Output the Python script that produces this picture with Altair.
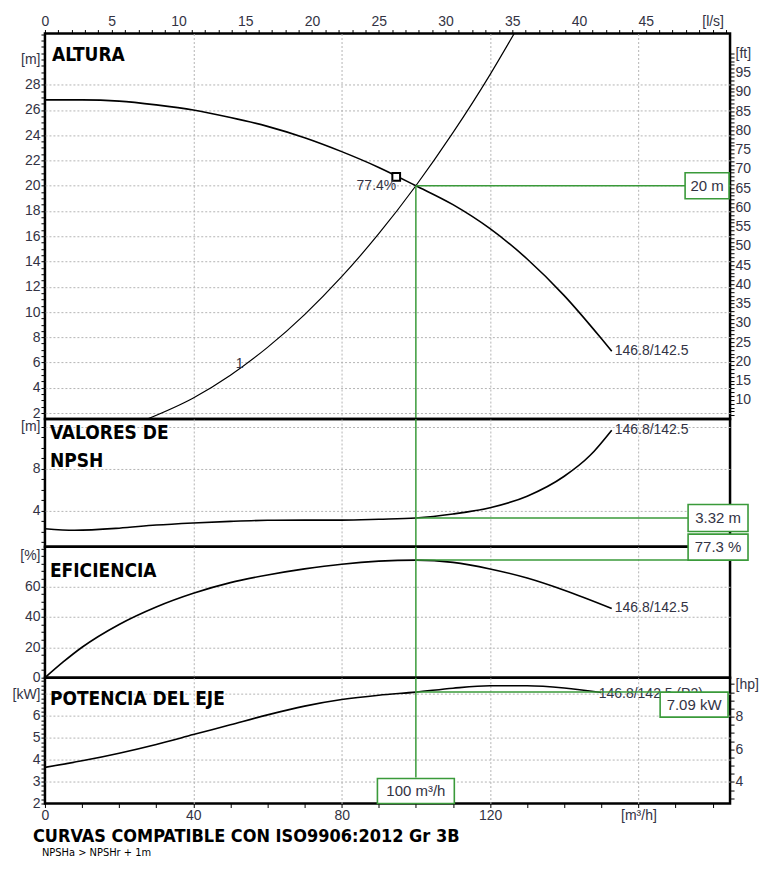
import altair as alt
import pandas as pd

FONT = "Liberation Sans, Arial, sans-serif"
TFONT = "Liberation Sans, Arial, sans-serif"
BFONT = "DejaVu Sans Condensed, Liberation Sans Narrow, sans-serif"
LBL = "#333344"
GREEN = "#3a9a3a"
GRID = "#b4b4b4"

W = 686
H1, H2, H3, H4 = 386, 128, 131, 126
Q_DOMAIN = [0, 184.7]
H_DOMAIN = [1.53, 32.05]
N_DOMAIN = [0.57, 12.76]
E_DOMAIN = [0, 86]
P_DOMAIN = [2, 7.75]

# ---- data ----
head_q = [0, 10, 20, 30, 40, 50, 60, 70, 80, 90, 100, 110, 120, 130, 140, 150, 152.8]
head_h = [26.8, 26.8, 26.7, 26.4, 26.0, 25.4, 24.7, 23.8, 22.7, 21.45, 20.0, 18.5, 16.6, 14.2, 11.3, 7.9, 6.9]
sys_q = [27, 40, 50, 60, 70, 80, 90, 100, 110, 120, 127]
sys_h = [1.46, 3.2, 5.0, 7.2, 9.8, 12.8, 16.2, 20.0, 24.2, 28.8, 32.3]
npsh_q = [0, 8, 20, 30, 40, 50, 60, 70, 80, 90, 100, 110, 120, 130, 140, 147, 152.8]
npsh_v = [2.3, 2.15, 2.35, 2.65, 2.85, 3.0, 3.1, 3.12, 3.12, 3.2, 3.32, 3.7, 4.3, 5.4, 7.3, 9.3, 11.7]
eff_q = [0, 5, 10, 20, 30, 40, 50, 60, 70, 80, 90, 100, 110, 120, 130, 140, 152.8]
eff_v = [0, 10.5, 20, 35, 46.5, 55.5, 62.5, 67.5, 71.5, 74.6, 76.6, 77.3, 75.8, 71.5, 65.5, 57.5, 45.5]
pow_q = [0, 10, 20, 30, 40, 50, 60, 70, 80, 90, 100, 110, 120, 130, 140, 150]
pow_v = [3.65, 3.95, 4.3, 4.7, 5.15, 5.6, 6.05, 6.45, 6.75, 6.95, 7.09, 7.27, 7.38, 7.38, 7.28, 7.07]

curve_label = "146.8/142.5"
power_label = "146.8/142.5  (P2)"
sys_label_q, sys_label_h = [50.6], [5.85]
bep_q, bep_h, bep_text = [94.7], [20.7], ["77.4%"]
op_q = 100
op_h, op_npsh, op_eff, op_pow = 20, 3.32, 77.3, 7.09
op_texts = {"h": "20 m", "n": "3.32 m", "e": "77.3 %", "p": "7.09 kW", "q": "100 m³/h"}

# axis tick value lists
ls_ticks = [k * 3.6 for k in range(0, 52)]
m3h_ticks = list(range(0, 181, 10))
m_ticks = [v / 2 for v in range(4, 65)]
ft_ticks = [ft / 3.28084 for ft in range(6, 101)]
n_ticks = list(range(1, 13))
e_ticks = list(range(0, 86, 5))
kw_ticks = [round(2 + 0.2 * k, 1) for k in range(0, 29)]
hp_ticks = [hp / 2 * 0.7457 for hp in range(6, 21)]

xscale = alt.Scale(domain=Q_DOMAIN, nice=False, zero=False)

AX = dict(labelFont=FONT, labelFontSize=14, labelColor=LBL, tickColor="black", tickSize=4,
          labelPadding=1, domain=False, grid=False, labelOverlap=False, labelFlush=False,
          labelBound=False, title=None, minExtent=0)


def grid_axis(orient, values):
    return alt.Axis(orient=orient, values=values, grid=True, gridDash=[2, 2], gridColor=GRID,
                    gridWidth=1, labels=False, ticks=False, domain=False, title=None,
                    minExtent=0, maxExtent=0)


def line(df, yfield, ydom, xaxis=None, yaxis=None, clip=False, width=1.6, color="black"):
    return alt.Chart(df).mark_line(color=color, strokeWidth=width, interpolate="monotone", clip=clip).encode(
        x=alt.X("q:Q", scale=xscale, axis=xaxis),
        y=alt.Y(f"{yfield}:Q", scale=alt.Scale(domain=ydom, nice=False, zero=False), axis=yaxis),
    )


def end_label(q, v, text, ydom, yaxis=None, size=14):
    df = pd.DataFrame({"q": [q], "v": [v], "t": [text]})
    return alt.Chart(df).mark_text(align="left", baseline="middle", dx=3, fontSize=size, font=TFONT,
                                   color=LBL).encode(
        x=alt.X("q:Q", scale=xscale, axis=None),
        y=alt.Y("v:Q", scale=alt.Scale(domain=ydom, nice=False, zero=False), axis=yaxis),
        text="t:N")


def title_text(text, x, y, size=19, bold=True, font=BFONT):
    return alt.Chart(pd.DataFrame({"t": [text]})).mark_text(
        align="left", baseline="middle", fontSize=size, font=font,
        fontWeight="bold" if bold else "normal", color="black").encode(
        x=alt.value(x), y=alt.value(y), text="t:N")


def box(yval, ydom, text, xpix, w, h, shift=0.0, xdata=None, ypix=None):
    r = w / 2
    hh = h / 2 / r
    off = shift / r
    path = f"M-1,{-hh + off:.3f}L1,{-hh + off:.3f}L1,{hh + off:.3f}L-1,{hh + off:.3f}Z"
    df = pd.DataFrame({"q": [xdata if xdata is not None else 0], "v": [yval], "t": [text]})
    xenc = alt.X("q:Q", scale=xscale, axis=None) if xdata is not None else alt.value(xpix)
    yenc = alt.value(ypix) if ypix is not None else alt.Y(
        "v:Q", scale=alt.Scale(domain=ydom, nice=False, zero=False), axis=None)
    b = alt.Chart(df).mark_point(shape=path, size=w * w, filled=True, fill="white", stroke=GREEN,
                                 strokeWidth=1.6, opacity=1).encode(x=xenc, y=yenc)
    t = alt.Chart(df).mark_text(fontSize=15, font=TFONT, color=LBL, baseline="middle", align="center",
                                dy=shift).encode(x=xenc, y=yenc, text="t:N")
    return b + t


def hrule(yval, ydom, x2pix):
    df = pd.DataFrame({"q": [op_q], "v": [yval]})
    return alt.Chart(df).mark_rule(color=GREEN, strokeWidth=1.5).encode(
        x=alt.X("q:Q", scale=xscale, axis=None), x2=alt.value(x2pix),
        y=alt.Y("v:Q", scale=alt.Scale(domain=ydom, nice=False, zero=False), axis=None))


def vrule(y_top=None, ydom=None, ytop_pix=0, ybot_pix=0):
    df = pd.DataFrame({"q": [op_q], "v": [y_top if y_top is not None else 0]})
    yenc = alt.Y("v:Q", scale=alt.Scale(domain=ydom, nice=False, zero=False), axis=None) if y_top is not None else alt.value(ytop_pix)
    return alt.Chart(df).mark_rule(color=GREEN, strokeWidth=1.5).encode(
        x=alt.X("q:Q", scale=xscale, axis=None), y=yenc, y2=alt.value(ybot_pix))


# ---------------- panel 1: ALTURA ----------------
head_df = pd.DataFrame({"q": head_q, "v": head_h})
sys_df = pd.DataFrame({"q": sys_q, "v": sys_h})

top_axis = alt.Axis(orient="top", values=ls_ticks,
                    labelExpr="round(datum.value/3.6) % 5 == 0 ? (round(datum.value/3.6) == 50 ? '[l/s]' : '' + round(datum.value/3.6)) : ''",
                    **AX)
m_axis = alt.Axis(orient="left", values=m_ticks,
                  labelExpr="datum.value % 2 == 0 ? (datum.value == 30 ? '[m]' : (datum.value <= 28 ? '' + datum.value : '')) : ''",
                  **AX)
ft_axis = alt.Axis(orient="right", values=ft_ticks,
                   labelExpr="round(datum.value*3.28084) % 5 == 0 && round(datum.value*3.28084) >= 10 ? (round(datum.value*3.28084) == 100 ? '[ft]' : '' + round(datum.value*3.28084)) : ''",
                   **AX)

p1 = alt.layer(
    line(head_df, "v", H_DOMAIN, xaxis=top_axis, yaxis=m_axis),
    line(sys_df, "v", H_DOMAIN, xaxis=grid_axis("bottom", [40, 80, 120, 160]), yaxis=ft_axis, clip=True, width=1.2),
    end_label(sys_label_q[0], sys_label_h[0], "1", H_DOMAIN, yaxis=grid_axis("left", list(range(2, 29, 2)))),
    end_label(head_q[-1], head_h[-1], curve_label, H_DOMAIN),
    vrule(op_h, H_DOMAIN, ybot_pix=H1),
    hrule(op_h, H_DOMAIN, W - 45),
    alt.Chart(pd.DataFrame({"q": bep_q, "v": bep_h})).mark_point(shape="square", size=60, filled=True, fill="white",
                                                                  stroke="black", strokeWidth=2, opacity=1).encode(
        x=alt.X("q:Q", scale=xscale, axis=None),
        y=alt.Y("v:Q", scale=alt.Scale(domain=H_DOMAIN, nice=False, zero=False), axis=None)),
    alt.Chart(pd.DataFrame({"q": bep_q, "v": [op_h], "t": bep_text})).mark_text(
        align="right", baseline="middle", fontSize=14, font=TFONT, color=LBL, dx=0).encode(
        x=alt.X("q:Q", scale=xscale, axis=None),
        y=alt.Y("v:Q", scale=alt.Scale(domain=H_DOMAIN, nice=False, zero=False), axis=None), text="t:N"),
    box(op_h, H_DOMAIN, op_texts["h"], W - 23, 44, 26),
    title_text("ALTURA", 7, 22),
).properties(width=W, height=H1).resolve_axis(x="independent", y="independent")

# ---------------- panel 2: NPSH ----------------
npsh_df = pd.DataFrame({"q": npsh_q, "v": npsh_v})
n_axis = alt.Axis(orient="left", values=n_ticks,
                  labelExpr="datum.value == 12 ? '[m]' : (datum.value % 4 == 0 ? '' + datum.value : '')", **AX)
p2 = alt.layer(
    line(npsh_df, "v", N_DOMAIN, xaxis=grid_axis("bottom", [40, 80, 120, 160]), yaxis=n_axis),
    end_label(npsh_q[-1], npsh_v[-1], curve_label, N_DOMAIN, yaxis=grid_axis("left", [4, 8, 12])),
    vrule(ytop_pix=0, ybot_pix=H2),
    hrule(op_npsh, N_DOMAIN, W - 42),
    box(op_npsh, N_DOMAIN, op_texts["n"], W - 12, 60, 27),
    title_text("VALORES DE", 5, 14),
    title_text("NPSH", 5, 42),
).properties(width=W, height=H2).resolve_axis(x="independent", y="independent")

# ---------------- panel 3: EFICIENCIA ----------------
eff_df = pd.DataFrame({"q": eff_q, "v": eff_v})
e_axis = alt.Axis(orient="left", values=e_ticks,
                  labelExpr="datum.value == 80 ? '[%]' : (datum.value % 20 == 0 ? '' + datum.value : '')", **AX)
p3 = alt.layer(
    line(eff_df, "v", E_DOMAIN, xaxis=grid_axis("bottom", [40, 80, 120, 160]), yaxis=e_axis),
    end_label(eff_q[-1], eff_v[-1], curve_label, E_DOMAIN, yaxis=grid_axis("left", [20, 40, 60])),
    vrule(ytop_pix=0, ybot_pix=H3),
    hrule(op_eff, E_DOMAIN, W - 42),
    box(op_eff, E_DOMAIN, op_texts["e"], W - 12, 60, 26, shift=-13),
    title_text("EFICIENCIA", 5, 24),
).properties(width=W, height=H3).resolve_axis(x="independent", y="independent")

# ---------------- panel 4: POTENCIA ----------------
pow_df = pd.DataFrame({"q": pow_q, "v": pow_v})
bottom_axis = alt.Axis(orient="bottom", values=m3h_ticks,
                       labelExpr="datum.value == 160 ? '[m³/h]' : (datum.value % 40 == 0 && datum.value < 160 ? '' + datum.value : '')",
                       **AX)
kw_axis = alt.Axis(orient="left", values=kw_ticks,
                   labelExpr="abs(datum.value - round(datum.value)) < 0.01 ? (round(datum.value) == 7 ? '[kW]' : '' + round(datum.value)) : ''",
                   **AX)
hp_axis = alt.Axis(orient="right", values=hp_ticks,
                   labelExpr="abs(datum.value/0.7457 - round(datum.value/0.7457)) < 0.01 && round(datum.value/0.7457) % 2 == 0 ? (round(datum.value/0.7457) == 10 ? '[hp]' : '' + round(datum.value/0.7457)) : ''",
                   **AX)
p4 = alt.layer(
    line(pow_df, "v", P_DOMAIN, xaxis=bottom_axis, yaxis=kw_axis),
    end_label(pow_q[-1] - 1.5, pow_v[-1] - 0.05, power_label, P_DOMAIN, yaxis=hp_axis),
    line(pow_df, "v", P_DOMAIN, xaxis=grid_axis("top", [40, 80, 120, 160]),
         yaxis=grid_axis("left", [3, 4, 5, 6, 7]), width=0),
    vrule(ytop_pix=0, ybot_pix=100),
    hrule(op_pow, P_DOMAIN, W - 70),
    box(op_pow, P_DOMAIN, op_texts["p"], W - 36, 68, 25, shift=12.5),
    box(0, P_DOMAIN, op_texts["q"], 0, 77, 25, xdata=op_q, ypix=113.5),
    title_text("POTENCIA DEL EJE", 5, 21),
    title_text("CURVAS COMPATIBLE CON ISO9906:2012 Gr 3B", -12, 160, size=18),
    title_text("NPSHa > NPSHr + 1m", -3, 176, size=11, bold=False),
).properties(width=W, height=H4).resolve_axis(x="independent", y="independent")

chart = alt.vconcat(p1, p2, p3, p4, spacing=0, bounds="flush").configure_view(
    stroke="black", strokeWidth=2.5).properties(padding={"left": 2, "top": 4, "right": 0, "bottom": 0})

chart.save("out.html", embed_options={"renderer": "svg", "actions": False})
